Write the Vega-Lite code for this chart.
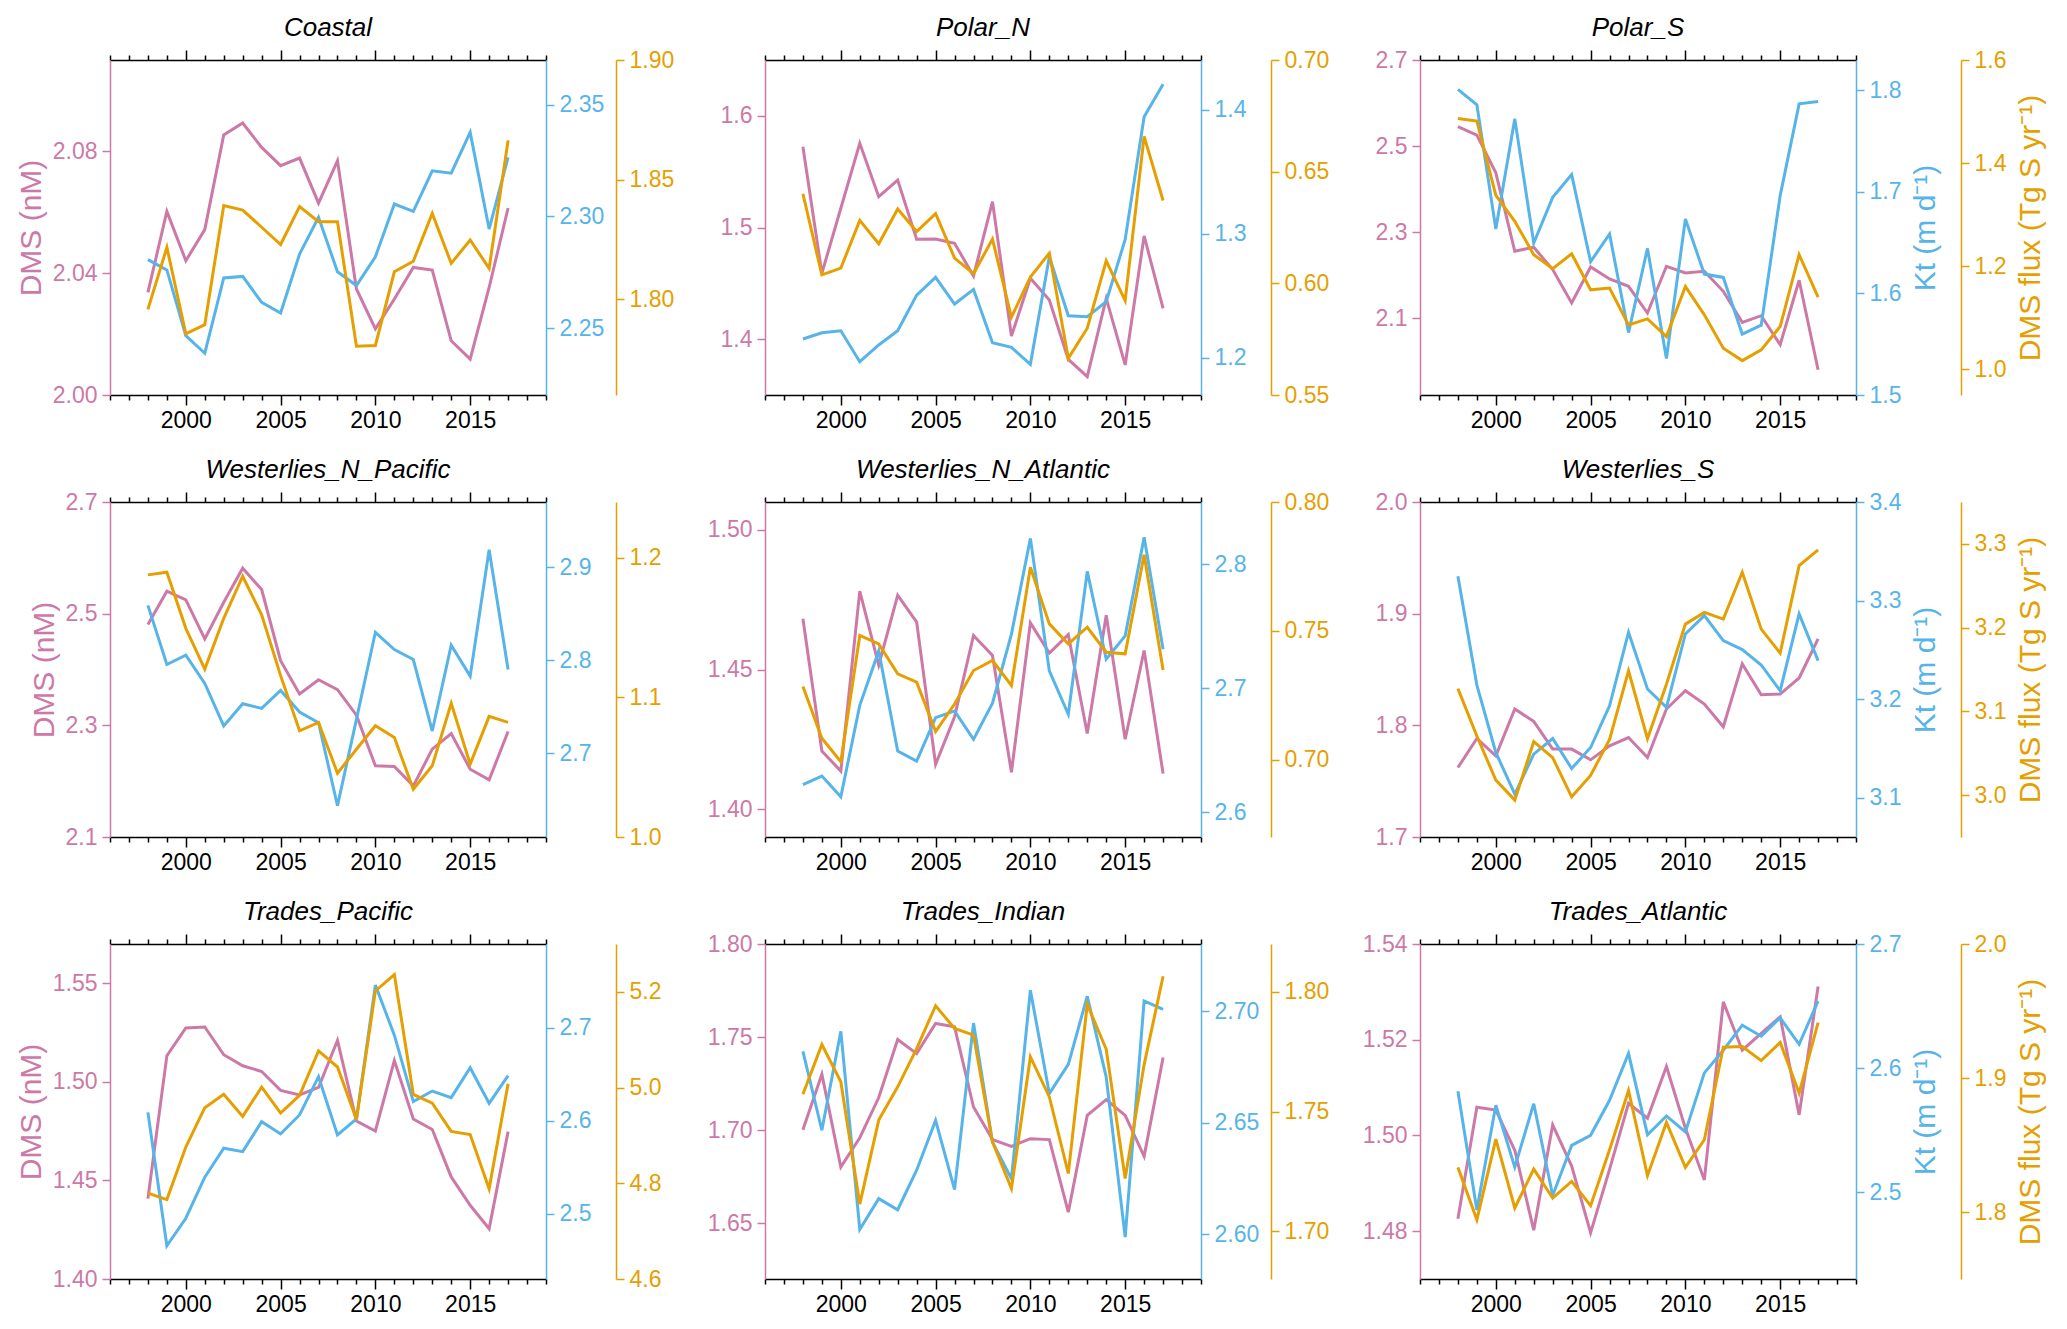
{
"$schema": "https://vega.github.io/schema/vega-lite/v6.json",
"background": "white",
"padding": {"left": 16, "top": 15, "right": 5, "bottom": 5},
"columns": 3,
"spacing": {"row": 107, "column": 219},
"bounds": "flush",
"data": {"values": [
{"region":"Coastal","year":1998,"dms":2.0337,"kt":2.2806,"flux":1.7958},
{"region":"Coastal","year":1999,"dms":2.0603,"kt":2.2760,"flux":1.8217},
{"region":"Coastal","year":2000,"dms":2.0441,"kt":2.2466,"flux":1.7856},
{"region":"Coastal","year":2001,"dms":2.0543,"kt":2.2387,"flux":1.7894},
{"region":"Coastal","year":2002,"dms":2.0854,"kt":2.2724,"flux":1.8392},
{"region":"Coastal","year":2003,"dms":2.0893,"kt":2.2731,"flux":1.8373},
{"region":"Coastal","year":2004,"dms":2.0813,"kt":2.2615,"flux":1.8301},
{"region":"Coastal","year":2005,"dms":2.0753,"kt":2.2567,"flux":1.8229},
{"region":"Coastal","year":2006,"dms":2.0778,"kt":2.2831,"flux":1.8387},
{"region":"Coastal","year":2007,"dms":2.0630,"kt":2.2996,"flux":1.8324},
{"region":"Coastal","year":2008,"dms":2.0769,"kt":2.2752,"flux":1.8324},
{"region":"Coastal","year":2009,"dms":2.0348,"kt":2.2690,"flux":1.7804},
{"region":"Coastal","year":2010,"dms":2.0217,"kt":2.2819,"flux":1.7807},
{"region":"Coastal","year":2011,"dms":2.0315,"kt":2.3055,"flux":1.8115},
{"region":"Coastal","year":2012,"dms":2.0419,"kt":2.3022,"flux":1.8159},
{"region":"Coastal","year":2013,"dms":2.0410,"kt":2.3204,"flux":1.8359},
{"region":"Coastal","year":2014,"dms":2.0178,"kt":2.3193,"flux":1.8150},
{"region":"Coastal","year":2015,"dms":2.0118,"kt":2.3376,"flux":1.8248},
{"region":"Coastal","year":2016,"dms":2.0353,"kt":2.2943,"flux":1.8129},
{"region":"Coastal","year":2017,"dms":2.0614,"kt":2.3264,"flux":1.8664},
{"region":"Polar_N","year":1998,"dms":1.5724,"kt":1.2151,"flux":0.6401},
{"region":"Polar_N","year":1999,"dms":1.4590,"kt":1.2202,"flux":0.6038},
{"region":"Polar_N","year":2000,"dms":1.5172,"kt":1.2218,"flux":0.6068},
{"region":"Polar_N","year":2001,"dms":1.5754,"kt":1.1968,"flux":0.6282},
{"region":"Polar_N","year":2002,"dms":1.5276,"kt":1.2103,"flux":0.6177},
{"region":"Polar_N","year":2003,"dms":1.5425,"kt":1.2218,"flux":0.6333},
{"region":"Polar_N","year":2004,"dms":1.4894,"kt":1.2505,"flux":0.6232},
{"region":"Polar_N","year":2005,"dms":1.4897,"kt":1.2648,"flux":0.6312},
{"region":"Polar_N","year":2006,"dms":1.4858,"kt":1.2433,"flux":0.6113},
{"region":"Polar_N","year":2007,"dms":1.4566,"kt":1.2551,"flux":0.6043},
{"region":"Polar_N","year":2008,"dms":1.5231,"kt":1.2121,"flux":0.6198},
{"region":"Polar_N","year":2009,"dms":1.4028,"kt":1.2084,"flux":0.5848},
{"region":"Polar_N","year":2010,"dms":1.4545,"kt":1.1947,"flux":0.6028},
{"region":"Polar_N","year":2011,"dms":1.4351,"kt":1.2814,"flux":0.6135},
{"region":"Polar_N","year":2012,"dms":1.3819,"kt":1.2339,"flux":0.5664},
{"region":"Polar_N","year":2013,"dms":1.3664,"kt":1.2331,"flux":0.5799},
{"region":"Polar_N","year":2014,"dms":1.4366,"kt":1.2452,"flux":0.6101},
{"region":"Polar_N","year":2015,"dms":1.3769,"kt":1.2954,"flux":0.5923},
{"region":"Polar_N","year":2016,"dms":1.4924,"kt":1.3942,"flux":0.6658},
{"region":"Polar_N","year":2017,"dms":1.4276,"kt":1.4205,"flux":0.6371},
{"region":"Polar_S","year":1998,"dms":2.545,"kt":1.801,"flux":1.4866},
{"region":"Polar_S","year":1999,"dms":2.5256,"kt":1.7859,"flux":1.4814},
{"region":"Polar_S","year":2000,"dms":2.438,"kt":1.6635,"flux":1.3375},
{"region":"Polar_S","year":2001,"dms":2.2558,"kt":1.772,"flux":1.287},
{"region":"Polar_S","year":2002,"dms":2.2651,"kt":1.6497,"flux":1.2222},
{"region":"Polar_S","year":2003,"dms":2.2132,"kt":1.6947,"flux":1.195},
{"region":"Polar_S","year":2004,"dms":2.1357,"kt":1.7171,"flux":1.2241},
{"region":"Polar_S","year":2005,"dms":2.2194,"kt":1.6313,"flux":1.1541},
{"region":"Polar_S","year":2006,"dms":2.1915,"kt":1.6586,"flux":1.1574},
{"region":"Polar_S","year":2007,"dms":2.1744,"kt":1.5615,"flux":1.0861},
{"region":"Polar_S","year":2008,"dms":2.1124,"kt":1.6444,"flux":1.0977},
{"region":"Polar_S","year":2009,"dms":2.2209,"kt":1.5359,"flux":1.0634},
{"region":"Polar_S","year":2010,"dms":2.2054,"kt":1.6734,"flux":1.1606},
{"region":"Polar_S","year":2011,"dms":2.2093,"kt":1.6191,"flux":1.1055},
{"region":"Polar_S","year":2012,"dms":2.1628,"kt":1.6158,"flux":1.0407},
{"region":"Polar_S","year":2013,"dms":2.0907,"kt":1.5599,"flux":1.0167},
{"region":"Polar_S","year":2014,"dms":2.1062,"kt":1.5688,"flux":1.0375},
{"region":"Polar_S","year":2015,"dms":2.0388,"kt":1.6964,"flux":1.0828},
{"region":"Polar_S","year":2016,"dms":2.1884,"kt":1.7868,"flux":1.2222},
{"region":"Polar_S","year":2017,"dms":1.9806,"kt":1.7891,"flux":1.1399},
{"region":"Westerlies_N_Pacific","year":1998,"dms":2.4804,"kt":2.8589,"flux":1.1878},
{"region":"Westerlies_N_Pacific","year":1999,"dms":2.5402,"kt":2.7954,"flux":1.1897},
{"region":"Westerlies_N_Pacific","year":2000,"dms":2.5246,"kt":2.8054,"flux":1.1495},
{"region":"Westerlies_N_Pacific","year":2001,"dms":2.4547,"kt":2.775,"flux":1.1203},
{"region":"Westerlies_N_Pacific","year":2002,"dms":2.5205,"kt":2.7293,"flux":1.1567},
{"region":"Westerlies_N_Pacific","year":2003,"dms":2.5815,"kt":2.7532,"flux":1.1868},
{"region":"Westerlies_N_Pacific","year":2004,"dms":2.5432,"kt":2.7482,"flux":1.1591},
{"region":"Westerlies_N_Pacific","year":2005,"dms":2.4158,"kt":2.7675,"flux":1.1156},
{"region":"Westerlies_N_Pacific","year":2006,"dms":2.356,"kt":2.7443,"flux":1.0761},
{"region":"Westerlies_N_Pacific","year":2007,"dms":2.3817,"kt":2.7329,"flux":1.0821},
{"region":"Westerlies_N_Pacific","year":2008,"dms":2.3638,"kt":2.6436,"flux":1.0457},
{"region":"Westerlies_N_Pacific","year":2009,"dms":2.3183,"kt":2.7364,"flux":1.0629},
{"region":"Westerlies_N_Pacific","year":2010,"dms":2.2274,"kt":2.83,"flux":1.0797},
{"region":"Westerlies_N_Pacific","year":2011,"dms":2.2262,"kt":2.8114,"flux":1.0713},
{"region":"Westerlies_N_Pacific","year":2012,"dms":2.1915,"kt":2.8007,"flux":1.0342},
{"region":"Westerlies_N_Pacific","year":2013,"dms":2.2573,"kt":2.7239,"flux":1.051},
{"region":"Westerlies_N_Pacific","year":2014,"dms":2.2854,"kt":2.8161,"flux":1.0957},
{"region":"Westerlies_N_Pacific","year":2015,"dms":2.2214,"kt":2.7829,"flux":1.0522},
{"region":"Westerlies_N_Pacific","year":2016,"dms":2.2023,"kt":2.9186,"flux":1.0864},
{"region":"Westerlies_N_Pacific","year":2017,"dms":2.289,"kt":2.79,"flux":1.0821},
{"region":"Westerlies_N_Atlantic","year":1998,"dms":1.4682,"kt":2.6223,"flux":0.7284},
{"region":"Westerlies_N_Atlantic","year":1999,"dms":1.4208,"kt":2.6291,"flux":0.7083},
{"region":"Westerlies_N_Atlantic","year":2000,"dms":1.4136,"kt":2.6124,"flux":0.6992},
{"region":"Westerlies_N_Atlantic","year":2001,"dms":1.4781,"kt":2.6861,"flux":0.7482},
{"region":"Westerlies_N_Atlantic","year":2002,"dms":1.4516,"kt":2.73,"flux":0.7449},
{"region":"Westerlies_N_Atlantic","year":2003,"dms":1.4766,"kt":2.6493,"flux":0.7333},
{"region":"Westerlies_N_Atlantic","year":2004,"dms":1.467,"kt":2.6412,"flux":0.7301},
{"region":"Westerlies_N_Atlantic","year":2005,"dms":1.416,"kt":2.6762,"flux":0.7109},
{"region":"Westerlies_N_Atlantic","year":2006,"dms":1.4331,"kt":2.6816,"flux":0.7216},
{"region":"Westerlies_N_Atlantic","year":2007,"dms":1.4622,"kt":2.6587,"flux":0.7346},
{"region":"Westerlies_N_Atlantic","year":2008,"dms":1.455,"kt":2.6878,"flux":0.7385},
{"region":"Westerlies_N_Atlantic","year":2009,"dms":1.4132,"kt":2.7435,"flux":0.7288},
{"region":"Westerlies_N_Atlantic","year":2010,"dms":1.4667,"kt":2.8207,"flux":0.7747},
{"region":"Westerlies_N_Atlantic","year":2011,"dms":1.4559,"kt":2.7139,"flux":0.7527},
{"region":"Westerlies_N_Atlantic","year":2012,"dms":1.4625,"kt":2.6789,"flux":0.7449},
{"region":"Westerlies_N_Atlantic","year":2013,"dms":1.4271,"kt":2.7941,"flux":0.7514},
{"region":"Westerlies_N_Atlantic","year":2014,"dms":1.4694,"kt":2.7233,"flux":0.7417},
{"region":"Westerlies_N_Atlantic","year":2015,"dms":1.425,"kt":2.7421,"flux":0.7411},
{"region":"Westerlies_N_Atlantic","year":2016,"dms":1.4568,"kt":2.8215,"flux":0.7795},
{"region":"Westerlies_N_Atlantic","year":2017,"dms":1.4127,"kt":2.7314,"flux":0.7348},
{"region":"Westerlies_S","year":1998,"dms":1.7622,"kt":3.3247,"flux":3.1272},
{"region":"Westerlies_S","year":1999,"dms":1.7882,"kt":3.2142,"flux":3.0706},
{"region":"Westerlies_S","year":2000,"dms":1.7727,"kt":3.1458,"flux":3.018},
{"region":"Westerlies_S","year":2001,"dms":1.8146,"kt":3.1034,"flux":2.994},
{"region":"Westerlies_S","year":2002,"dms":1.8035,"kt":3.1441,"flux":3.0638},
{"region":"Westerlies_S","year":2003,"dms":1.7787,"kt":3.16,"flux":3.0447},
{"region":"Westerlies_S","year":2004,"dms":1.7787,"kt":3.1295,"flux":2.998},
{"region":"Westerlies_S","year":2005,"dms":1.7691,"kt":3.1508,"flux":3.0235},
{"region":"Westerlies_S","year":2006,"dms":1.7817,"kt":3.1932,"flux":3.0666},
{"region":"Westerlies_S","year":2007,"dms":1.7891,"kt":3.2678,"flux":3.1484},
{"region":"Westerlies_S","year":2008,"dms":1.7712,"kt":3.2102,"flux":3.0674},
{"region":"Westerlies_S","year":2009,"dms":1.8146,"kt":3.1915,"flux":3.1324},
{"region":"Westerlies_S","year":2010,"dms":1.831,"kt":3.2661,"flux":3.2042},
{"region":"Westerlies_S","year":2011,"dms":1.8191,"kt":3.2847,"flux":3.2182},
{"region":"Westerlies_S","year":2012,"dms":1.7987,"kt":3.2593,"flux":3.2102},
{"region":"Westerlies_S","year":2013,"dms":1.855,"kt":3.2502,"flux":3.2661},
{"region":"Westerlies_S","year":2014,"dms":1.8274,"kt":3.2346,"flux":3.1982},
{"region":"Westerlies_S","year":2015,"dms":1.828,"kt":3.2085,"flux":3.1695},
{"region":"Westerlies_S","year":2016,"dms":1.8424,"kt":3.2864,"flux":3.274},
{"region":"Westerlies_S","year":2017,"dms":1.8774,"kt":3.239,"flux":3.2928},
{"region":"Trades_Pacific","year":1998,"dms":1.4408,"kt":2.6091,"flux":4.7793},
{"region":"Trades_Pacific","year":1999,"dms":1.5133,"kt":2.4657,"flux":4.766},
{"region":"Trades_Pacific","year":2000,"dms":1.5274,"kt":2.4953,"flux":4.8756},
{"region":"Trades_Pacific","year":2001,"dms":1.5279,"kt":2.5394,"flux":4.9579},
{"region":"Trades_Pacific","year":2002,"dms":1.5138,"kt":2.5705,"flux":4.9858},
{"region":"Trades_Pacific","year":2003,"dms":1.5082,"kt":2.5669,"flux":4.9397},
{"region":"Trades_Pacific","year":2004,"dms":1.5053,"kt":2.5991,"flux":5.0011},
{"region":"Trades_Pacific","year":2005,"dms":1.4957,"kt":2.5859,"flux":4.9467},
{"region":"Trades_Pacific","year":2006,"dms":1.4934,"kt":2.6063,"flux":4.9837},
{"region":"Trades_Pacific","year":2007,"dms":1.4972,"kt":2.6474,"flux":5.0765},
{"region":"Trades_Pacific","year":2008,"dms":1.5211,"kt":2.5848,"flux":5.043},
{"region":"Trades_Pacific","year":2009,"dms":1.4802,"kt":2.602,"flux":4.9334},
{"region":"Trades_Pacific","year":2010,"dms":1.4751,"kt":2.7458,"flux":5.202},
{"region":"Trades_Pacific","year":2011,"dms":1.5109,"kt":2.6921,"flux":5.2362},
{"region":"Trades_Pacific","year":2012,"dms":1.4812,"kt":2.6206,"flux":4.9858},
{"region":"Trades_Pacific","year":2013,"dms":1.4759,"kt":2.632,"flux":4.9676},
{"region":"Trades_Pacific","year":2014,"dms":1.4518,"kt":2.6249,"flux":4.9083},
{"region":"Trades_Pacific","year":2015,"dms":1.4374,"kt":2.6571,"flux":4.902},
{"region":"Trades_Pacific","year":2016,"dms":1.4255,"kt":2.6188,"flux":4.7884},
{"region":"Trades_Pacific","year":2017,"dms":1.4748,"kt":2.6485,"flux":5.0081},
{"region":"Trades_Indian","year":1998,"dms":1.7002,"kt":2.6819,"flux":1.7572},
{"region":"Trades_Indian","year":1999,"dms":1.73,"kt":2.6466,"flux":1.778},
{"region":"Trades_Indian","year":2000,"dms":1.6801,"kt":2.6909,"flux":1.7624},
{"region":"Trades_Indian","year":2001,"dms":1.6959,"kt":2.6022,"flux":1.7113},
{"region":"Trades_Indian","year":2002,"dms":1.7175,"kt":2.616,"flux":1.7464},
{"region":"Trades_Indian","year":2003,"dms":1.7487,"kt":2.611,"flux":1.7603},
{"region":"Trades_Indian","year":2004,"dms":1.7411,"kt":2.6287,"flux":1.7763},
{"region":"Trades_Indian","year":2005,"dms":1.7573,"kt":2.651,"flux":1.7942},
{"region":"Trades_Indian","year":2006,"dms":1.7555,"kt":2.62,"flux":1.7847},
{"region":"Trades_Indian","year":2007,"dms":1.7124,"kt":2.6946,"flux":1.7819},
{"region":"Trades_Indian","year":2008,"dms":1.6949,"kt":2.6413,"flux":1.7373},
{"region":"Trades_Indian","year":2009,"dms":1.6913,"kt":2.6249,"flux":1.7178},
{"region":"Trades_Indian","year":2010,"dms":1.6954,"kt":2.7093,"flux":1.7728},
{"region":"Trades_Indian","year":2011,"dms":1.6949,"kt":2.663,"flux":1.7561},
{"region":"Trades_Indian","year":2012,"dms":1.6559,"kt":2.6761,"flux":1.7241},
{"region":"Trades_Indian","year":2013,"dms":1.7079,"kt":2.7066,"flux":1.7948},
{"region":"Trades_Indian","year":2014,"dms":1.7164,"kt":2.6704,"flux":1.776},
{"region":"Trades_Indian","year":2015,"dms":1.7079,"kt":2.5988,"flux":1.722},
{"region":"Trades_Indian","year":2016,"dms":1.6859,"kt":2.7045,"flux":1.7696},
{"region":"Trades_Indian","year":2017,"dms":1.739,"kt":2.7007,"flux":1.8065},
{"region":"Trades_Atlantic","year":1998,"dms":1.4826,"kt":2.5813,"flux":1.8333},
{"region":"Trades_Atlantic","year":1999,"dms":1.5059,"kt":2.4857,"flux":1.7943},
{"region":"Trades_Atlantic","year":2000,"dms":1.5053,"kt":2.57,"flux":1.8544},
{"region":"Trades_Atlantic","year":2001,"dms":1.4969,"kt":2.5202,"flux":1.803},
{"region":"Trades_Atlantic","year":2002,"dms":1.4802,"kt":2.5713,"flux":1.832},
{"region":"Trades_Atlantic","year":2003,"dms":1.5022,"kt":2.4973,"flux":1.8104},
{"region":"Trades_Atlantic","year":2004,"dms":1.4936,"kt":2.5377,"flux":1.8229},
{"region":"Trades_Atlantic","year":2005,"dms":1.4797,"kt":2.5458,"flux":1.8047},
{"region":"Trades_Atlantic","year":2006,"dms":1.4929,"kt":2.574,"flux":1.8465},
{"region":"Trades_Atlantic","year":2007,"dms":1.5067,"kt":2.6117,"flux":1.8907},
{"region":"Trades_Atlantic","year":2008,"dms":1.5036,"kt":2.5463,"flux":1.8271},
{"region":"Trades_Atlantic","year":2009,"dms":1.5144,"kt":2.5614,"flux":1.8668},
{"region":"Trades_Atlantic","year":2010,"dms":1.5015,"kt":2.5485,"flux":1.8333},
{"region":"Trades_Atlantic","year":2011,"dms":1.4907,"kt":2.5961,"flux":1.8539},
{"region":"Trades_Atlantic","year":2012,"dms":1.5279,"kt":2.6144,"flux":1.923},
{"region":"Trades_Atlantic","year":2013,"dms":1.5178,"kt":2.6346,"flux":1.9235},
{"region":"Trades_Atlantic","year":2014,"dms":1.5213,"kt":2.6257,"flux":1.913},
{"region":"Trades_Atlantic","year":2015,"dms":1.5248,"kt":2.6405,"flux":1.9265},
{"region":"Trades_Atlantic","year":2016,"dms":1.5043,"kt":2.6192,"flux":1.8887},
{"region":"Trades_Atlantic","year":2017,"dms":1.5311,"kt":2.654,"flux":1.9414}
]},
"concat": [
{"title": "Coastal", "width": 436, "height": 335,
 "transform": [{"filter": "datum.region === 'Coastal'"}],
 "layer": [
  {"mark": {"type": "line", "color": "#CC79A7", "strokeWidth": 3},
   "encoding": {
    "x": {"field": "year", "type": "quantitative", "scale": {"domain": [1996, 2019], "nice": false, "zero": false},
     "axis": {"orient": "bottom", "values": [1996,1997,1998,1999,2000,2001,2002,2003,2004,2005,2006,2007,2008,2009,2010,2011,2012,2013,2014,2015,2016,2017,2018,2019], "format": "d", "labelExpr": "datum.value % 5 === 0 ? datum.label : ''", "tickSize": {"condition": {"test": "datum.value % 5 === 0", "value": 10}, "value": 5}, "title": null, "labelOverlap": false, "labelFlush": false, "labelBound": false, "domainColor": "black", "tickColor": "black", "labelColor": "black", "labelPadding": 4}},
    "y": {"field": "dms", "type": "quantitative", "scale": {"domain": [2.0, 2.11], "nice": false, "zero": false},
     "axis": {"orient": "left", "values": [2.0, 2.04, 2.08], "format": ".2f", "title": "DMS (nM)", "titlePadding": 6, "domainColor": "#CC79A7", "tickColor": "#CC79A7", "labelColor": "#CC79A7", "titleColor": "#CC79A7"}}}},
  {"mark": {"type": "line", "color": "#56B4E9", "strokeWidth": 3},
   "encoding": {
    "x": {"field": "year", "type": "quantitative", "scale": {"domain": [1996, 2019], "nice": false, "zero": false},
     "axis": {"orient": "top", "values": [1996,1997,1998,1999,2000,2001,2002,2003,2004,2005,2006,2007,2008,2009,2010,2011,2012,2013,2014,2015,2016,2017,2018,2019], "labels": false, "tickSize": {"condition": {"test": "datum.value % 5 === 0", "value": 10}, "value": 5}, "title": null, "domainColor": "black", "tickColor": "black"}},
    "y": {"field": "kt", "type": "quantitative", "scale": {"domain": [2.22, 2.37], "nice": false, "zero": false},
     "axis": {"orient": "right", "values": [2.25, 2.30, 2.35], "format": ".2f", "title": null, "domainColor": "#56B4E9", "tickColor": "#56B4E9", "labelColor": "#56B4E9"}}}},
  {"mark": {"type": "line", "color": "#E69F00", "strokeWidth": 3},
   "encoding": {
    "x": {"field": "year", "type": "quantitative", "scale": {"domain": [1996, 2019], "nice": false, "zero": false}, "axis": null},
    "y": {"field": "flux", "type": "quantitative", "scale": {"domain": [1.76, 1.90], "nice": false, "zero": false},
     "axis": {"orient": "right", "offset": 70, "values": [1.80, 1.85, 1.90], "format": ".2f", "title": null, "domainColor": "#E69F00", "tickColor": "#E69F00", "labelColor": "#E69F00"}}}}
 ],
 "resolve": {"scale": {"y": "independent"}, "axis": {"x": "independent", "y": "independent"}}},
{"title": "Polar_N", "width": 436, "height": 335,
 "transform": [{"filter": "datum.region === 'Polar_N'"}],
 "layer": [
  {"mark": {"type": "line", "color": "#CC79A7", "strokeWidth": 3},
   "encoding": {
    "x": {"field": "year", "type": "quantitative", "scale": {"domain": [1996, 2019], "nice": false, "zero": false},
     "axis": {"orient": "bottom", "values": [1996,1997,1998,1999,2000,2001,2002,2003,2004,2005,2006,2007,2008,2009,2010,2011,2012,2013,2014,2015,2016,2017,2018,2019], "format": "d", "labelExpr": "datum.value % 5 === 0 ? datum.label : ''", "tickSize": {"condition": {"test": "datum.value % 5 === 0", "value": 10}, "value": 5}, "title": null, "labelOverlap": false, "labelFlush": false, "labelBound": false, "domainColor": "black", "tickColor": "black", "labelColor": "black", "labelPadding": 4}},
    "y": {"field": "dms", "type": "quantitative", "scale": {"domain": [1.35, 1.65], "nice": false, "zero": false},
     "axis": {"orient": "left", "values": [1.4, 1.5, 1.6], "format": ".1f", "title": null, "domainColor": "#CC79A7", "tickColor": "#CC79A7", "labelColor": "#CC79A7"}}}},
  {"mark": {"type": "line", "color": "#56B4E9", "strokeWidth": 3},
   "encoding": {
    "x": {"field": "year", "type": "quantitative", "scale": {"domain": [1996, 2019], "nice": false, "zero": false},
     "axis": {"orient": "top", "values": [1996,1997,1998,1999,2000,2001,2002,2003,2004,2005,2006,2007,2008,2009,2010,2011,2012,2013,2014,2015,2016,2017,2018,2019], "labels": false, "tickSize": {"condition": {"test": "datum.value % 5 === 0", "value": 10}, "value": 5}, "title": null, "domainColor": "black", "tickColor": "black"}},
    "y": {"field": "kt", "type": "quantitative", "scale": {"domain": [1.17, 1.44], "nice": false, "zero": false},
     "axis": {"orient": "right", "values": [1.2, 1.3, 1.4], "format": ".1f", "title": null, "domainColor": "#56B4E9", "tickColor": "#56B4E9", "labelColor": "#56B4E9"}}}},
  {"mark": {"type": "line", "color": "#E69F00", "strokeWidth": 3},
   "encoding": {
    "x": {"field": "year", "type": "quantitative", "scale": {"domain": [1996, 2019], "nice": false, "zero": false}, "axis": null},
    "y": {"field": "flux", "type": "quantitative", "scale": {"domain": [0.55, 0.70], "nice": false, "zero": false},
     "axis": {"orient": "right", "offset": 70, "values": [0.55, 0.60, 0.65, 0.70], "format": ".2f", "title": null, "domainColor": "#E69F00", "tickColor": "#E69F00", "labelColor": "#E69F00"}}}}
 ],
 "resolve": {"scale": {"y": "independent"}, "axis": {"x": "independent", "y": "independent"}}},
{"title": "Polar_S", "width": 436, "height": 335,
 "transform": [{"filter": "datum.region === 'Polar_S'"}],
 "layer": [
  {"mark": {"type": "line", "color": "#CC79A7", "strokeWidth": 3},
   "encoding": {
    "x": {"field": "year", "type": "quantitative", "scale": {"domain": [1996, 2019], "nice": false, "zero": false},
     "axis": {"orient": "bottom", "values": [1996,1997,1998,1999,2000,2001,2002,2003,2004,2005,2006,2007,2008,2009,2010,2011,2012,2013,2014,2015,2016,2017,2018,2019], "format": "d", "labelExpr": "datum.value % 5 === 0 ? datum.label : ''", "tickSize": {"condition": {"test": "datum.value % 5 === 0", "value": 10}, "value": 5}, "title": null, "labelOverlap": false, "labelFlush": false, "labelBound": false, "domainColor": "black", "tickColor": "black", "labelColor": "black", "labelPadding": 4}},
    "y": {"field": "dms", "type": "quantitative", "scale": {"domain": [1.922, 2.7], "nice": false, "zero": false},
     "axis": {"orient": "left", "values": [2.1, 2.3, 2.5, 2.7], "format": ".1f", "title": null, "domainColor": "#CC79A7", "tickColor": "#CC79A7", "labelColor": "#CC79A7"}}}},
  {"mark": {"type": "line", "color": "#56B4E9", "strokeWidth": 3},
   "encoding": {
    "x": {"field": "year", "type": "quantitative", "scale": {"domain": [1996, 2019], "nice": false, "zero": false},
     "axis": {"orient": "top", "values": [1996,1997,1998,1999,2000,2001,2002,2003,2004,2005,2006,2007,2008,2009,2010,2011,2012,2013,2014,2015,2016,2017,2018,2019], "labels": false, "tickSize": {"condition": {"test": "datum.value % 5 === 0", "value": 10}, "value": 5}, "title": null, "domainColor": "black", "tickColor": "black"}},
    "y": {"field": "kt", "type": "quantitative", "scale": {"domain": [1.5, 1.83], "nice": false, "zero": false},
     "axis": {"orient": "right", "values": [1.5, 1.6, 1.7, 1.8], "format": ".1f", "title": "Kt (m d⁻¹)", "titleAngle": 270, "titleBaseline": "top", "titlePadding": 10, "domainColor": "#56B4E9", "tickColor": "#56B4E9", "labelColor": "#56B4E9", "titleColor": "#56B4E9"}}}},
  {"mark": {"type": "line", "color": "#E69F00", "strokeWidth": 3},
   "encoding": {
    "x": {"field": "year", "type": "quantitative", "scale": {"domain": [1996, 2019], "nice": false, "zero": false}, "axis": null},
    "y": {"field": "flux", "type": "quantitative", "scale": {"domain": [0.95, 1.6], "nice": false, "zero": false},
     "axis": {"orient": "right", "offset": 105, "values": [1.0, 1.2, 1.4, 1.6], "format": ".1f", "title": "DMS flux (Tg S yr⁻¹)", "titleAngle": 270, "titleBaseline": "top", "titlePadding": 10, "domainColor": "#E69F00", "tickColor": "#E69F00", "labelColor": "#E69F00", "titleColor": "#E69F00"}}}}
 ],
 "resolve": {"scale": {"y": "independent"}, "axis": {"x": "independent", "y": "independent"}}},
{"title": "Westerlies_N_Pacific", "width": 436, "height": 335,
 "transform": [{"filter": "datum.region === 'Westerlies_N_Pacific'"}],
 "layer": [
  {"mark": {"type": "line", "color": "#CC79A7", "strokeWidth": 3},
   "encoding": {
    "x": {"field": "year", "type": "quantitative", "scale": {"domain": [1996, 2019], "nice": false, "zero": false},
     "axis": {"orient": "bottom", "values": [1996,1997,1998,1999,2000,2001,2002,2003,2004,2005,2006,2007,2008,2009,2010,2011,2012,2013,2014,2015,2016,2017,2018,2019], "format": "d", "labelExpr": "datum.value % 5 === 0 ? datum.label : ''", "tickSize": {"condition": {"test": "datum.value % 5 === 0", "value": 10}, "value": 5}, "title": null, "labelOverlap": false, "labelFlush": false, "labelBound": false, "domainColor": "black", "tickColor": "black", "labelColor": "black", "labelPadding": 4}},
    "y": {"field": "dms", "type": "quantitative", "scale": {"domain": [2.1, 2.7], "nice": false, "zero": false},
     "axis": {"orient": "left", "values": [2.1, 2.3, 2.5, 2.7], "format": ".1f", "title": "DMS (nM)", "titlePadding": 6, "domainColor": "#CC79A7", "tickColor": "#CC79A7", "labelColor": "#CC79A7", "titleColor": "#CC79A7"}}}},
  {"mark": {"type": "line", "color": "#56B4E9", "strokeWidth": 3},
   "encoding": {
    "x": {"field": "year", "type": "quantitative", "scale": {"domain": [1996, 2019], "nice": false, "zero": false},
     "axis": {"orient": "top", "values": [1996,1997,1998,1999,2000,2001,2002,2003,2004,2005,2006,2007,2008,2009,2010,2011,2012,2013,2014,2015,2016,2017,2018,2019], "labels": false, "tickSize": {"condition": {"test": "datum.value % 5 === 0", "value": 10}, "value": 5}, "title": null, "domainColor": "black", "tickColor": "black"}},
    "y": {"field": "kt", "type": "quantitative", "scale": {"domain": [2.61, 2.97], "nice": false, "zero": false},
     "axis": {"orient": "right", "values": [2.7, 2.8, 2.9], "format": ".1f", "title": null, "domainColor": "#56B4E9", "tickColor": "#56B4E9", "labelColor": "#56B4E9"}}}},
  {"mark": {"type": "line", "color": "#E69F00", "strokeWidth": 3},
   "encoding": {
    "x": {"field": "year", "type": "quantitative", "scale": {"domain": [1996, 2019], "nice": false, "zero": false}, "axis": null},
    "y": {"field": "flux", "type": "quantitative", "scale": {"domain": [1.0, 1.24], "nice": false, "zero": false},
     "axis": {"orient": "right", "offset": 70, "values": [1.0, 1.1, 1.2], "format": ".1f", "title": null, "domainColor": "#E69F00", "tickColor": "#E69F00", "labelColor": "#E69F00"}}}}
 ],
 "resolve": {"scale": {"y": "independent"}, "axis": {"x": "independent", "y": "independent"}}},
{"title": "Westerlies_N_Atlantic", "width": 436, "height": 335,
 "transform": [{"filter": "datum.region === 'Westerlies_N_Atlantic'"}],
 "layer": [
  {"mark": {"type": "line", "color": "#CC79A7", "strokeWidth": 3},
   "encoding": {
    "x": {"field": "year", "type": "quantitative", "scale": {"domain": [1996, 2019], "nice": false, "zero": false},
     "axis": {"orient": "bottom", "values": [1996,1997,1998,1999,2000,2001,2002,2003,2004,2005,2006,2007,2008,2009,2010,2011,2012,2013,2014,2015,2016,2017,2018,2019], "format": "d", "labelExpr": "datum.value % 5 === 0 ? datum.label : ''", "tickSize": {"condition": {"test": "datum.value % 5 === 0", "value": 10}, "value": 5}, "title": null, "labelOverlap": false, "labelFlush": false, "labelBound": false, "domainColor": "black", "tickColor": "black", "labelColor": "black", "labelPadding": 4}},
    "y": {"field": "dms", "type": "quantitative", "scale": {"domain": [1.39, 1.51], "nice": false, "zero": false},
     "axis": {"orient": "left", "values": [1.40, 1.45, 1.50], "format": ".2f", "title": null, "domainColor": "#CC79A7", "tickColor": "#CC79A7", "labelColor": "#CC79A7"}}}},
  {"mark": {"type": "line", "color": "#56B4E9", "strokeWidth": 3},
   "encoding": {
    "x": {"field": "year", "type": "quantitative", "scale": {"domain": [1996, 2019], "nice": false, "zero": false},
     "axis": {"orient": "top", "values": [1996,1997,1998,1999,2000,2001,2002,2003,2004,2005,2006,2007,2008,2009,2010,2011,2012,2013,2014,2015,2016,2017,2018,2019], "labels": false, "tickSize": {"condition": {"test": "datum.value % 5 === 0", "value": 10}, "value": 5}, "title": null, "domainColor": "black", "tickColor": "black"}},
    "y": {"field": "kt", "type": "quantitative", "scale": {"domain": [2.58, 2.85], "nice": false, "zero": false},
     "axis": {"orient": "right", "values": [2.6, 2.7, 2.8], "format": ".1f", "title": null, "domainColor": "#56B4E9", "tickColor": "#56B4E9", "labelColor": "#56B4E9"}}}},
  {"mark": {"type": "line", "color": "#E69F00", "strokeWidth": 3},
   "encoding": {
    "x": {"field": "year", "type": "quantitative", "scale": {"domain": [1996, 2019], "nice": false, "zero": false}, "axis": null},
    "y": {"field": "flux", "type": "quantitative", "scale": {"domain": [0.67, 0.80], "nice": false, "zero": false},
     "axis": {"orient": "right", "offset": 70, "values": [0.70, 0.75, 0.80], "format": ".2f", "title": null, "domainColor": "#E69F00", "tickColor": "#E69F00", "labelColor": "#E69F00"}}}}
 ],
 "resolve": {"scale": {"y": "independent"}, "axis": {"x": "independent", "y": "independent"}}},
{"title": "Westerlies_S", "width": 436, "height": 335,
 "transform": [{"filter": "datum.region === 'Westerlies_S'"}],
 "layer": [
  {"mark": {"type": "line", "color": "#CC79A7", "strokeWidth": 3},
   "encoding": {
    "x": {"field": "year", "type": "quantitative", "scale": {"domain": [1996, 2019], "nice": false, "zero": false},
     "axis": {"orient": "bottom", "values": [1996,1997,1998,1999,2000,2001,2002,2003,2004,2005,2006,2007,2008,2009,2010,2011,2012,2013,2014,2015,2016,2017,2018,2019], "format": "d", "labelExpr": "datum.value % 5 === 0 ? datum.label : ''", "tickSize": {"condition": {"test": "datum.value % 5 === 0", "value": 10}, "value": 5}, "title": null, "labelOverlap": false, "labelFlush": false, "labelBound": false, "domainColor": "black", "tickColor": "black", "labelColor": "black", "labelPadding": 4}},
    "y": {"field": "dms", "type": "quantitative", "scale": {"domain": [1.7, 2.0], "nice": false, "zero": false},
     "axis": {"orient": "left", "values": [1.7, 1.8, 1.9, 2.0], "format": ".1f", "title": null, "domainColor": "#CC79A7", "tickColor": "#CC79A7", "labelColor": "#CC79A7"}}}},
  {"mark": {"type": "line", "color": "#56B4E9", "strokeWidth": 3},
   "encoding": {
    "x": {"field": "year", "type": "quantitative", "scale": {"domain": [1996, 2019], "nice": false, "zero": false},
     "axis": {"orient": "top", "values": [1996,1997,1998,1999,2000,2001,2002,2003,2004,2005,2006,2007,2008,2009,2010,2011,2012,2013,2014,2015,2016,2017,2018,2019], "labels": false, "tickSize": {"condition": {"test": "datum.value % 5 === 0", "value": 10}, "value": 5}, "title": null, "domainColor": "black", "tickColor": "black"}},
    "y": {"field": "kt", "type": "quantitative", "scale": {"domain": [3.06, 3.4], "nice": false, "zero": false},
     "axis": {"orient": "right", "values": [3.1, 3.2, 3.3, 3.4], "format": ".1f", "title": "Kt (m d⁻¹)", "titleAngle": 270, "titleBaseline": "top", "titlePadding": 10, "domainColor": "#56B4E9", "tickColor": "#56B4E9", "labelColor": "#56B4E9", "titleColor": "#56B4E9"}}}},
  {"mark": {"type": "line", "color": "#E69F00", "strokeWidth": 3},
   "encoding": {
    "x": {"field": "year", "type": "quantitative", "scale": {"domain": [1996, 2019], "nice": false, "zero": false}, "axis": null},
    "y": {"field": "flux", "type": "quantitative", "scale": {"domain": [2.95, 3.35], "nice": false, "zero": false},
     "axis": {"orient": "right", "offset": 105, "values": [3.0, 3.1, 3.2, 3.3], "format": ".1f", "title": "DMS flux (Tg S yr⁻¹)", "titleAngle": 270, "titleBaseline": "top", "titlePadding": 10, "domainColor": "#E69F00", "tickColor": "#E69F00", "labelColor": "#E69F00", "titleColor": "#E69F00"}}}}
 ],
 "resolve": {"scale": {"y": "independent"}, "axis": {"x": "independent", "y": "independent"}}},
{"title": "Trades_Pacific", "width": 436, "height": 335,
 "transform": [{"filter": "datum.region === 'Trades_Pacific'"}],
 "layer": [
  {"mark": {"type": "line", "color": "#CC79A7", "strokeWidth": 3},
   "encoding": {
    "x": {"field": "year", "type": "quantitative", "scale": {"domain": [1996, 2019], "nice": false, "zero": false},
     "axis": {"orient": "bottom", "values": [1996,1997,1998,1999,2000,2001,2002,2003,2004,2005,2006,2007,2008,2009,2010,2011,2012,2013,2014,2015,2016,2017,2018,2019], "format": "d", "labelExpr": "datum.value % 5 === 0 ? datum.label : ''", "tickSize": {"condition": {"test": "datum.value % 5 === 0", "value": 10}, "value": 5}, "title": null, "labelOverlap": false, "labelFlush": false, "labelBound": false, "domainColor": "black", "tickColor": "black", "labelColor": "black", "labelPadding": 4}},
    "y": {"field": "dms", "type": "quantitative", "scale": {"domain": [1.40, 1.57], "nice": false, "zero": false},
     "axis": {"orient": "left", "values": [1.40, 1.45, 1.50, 1.55], "format": ".2f", "title": "DMS (nM)", "titlePadding": 6, "domainColor": "#CC79A7", "tickColor": "#CC79A7", "labelColor": "#CC79A7", "titleColor": "#CC79A7"}}}},
  {"mark": {"type": "line", "color": "#56B4E9", "strokeWidth": 3},
   "encoding": {
    "x": {"field": "year", "type": "quantitative", "scale": {"domain": [1996, 2019], "nice": false, "zero": false},
     "axis": {"orient": "top", "values": [1996,1997,1998,1999,2000,2001,2002,2003,2004,2005,2006,2007,2008,2009,2010,2011,2012,2013,2014,2015,2016,2017,2018,2019], "labels": false, "tickSize": {"condition": {"test": "datum.value % 5 === 0", "value": 10}, "value": 5}, "title": null, "domainColor": "black", "tickColor": "black"}},
    "y": {"field": "kt", "type": "quantitative", "scale": {"domain": [2.43, 2.79], "nice": false, "zero": false},
     "axis": {"orient": "right", "values": [2.5, 2.6, 2.7], "format": ".1f", "title": null, "domainColor": "#56B4E9", "tickColor": "#56B4E9", "labelColor": "#56B4E9"}}}},
  {"mark": {"type": "line", "color": "#E69F00", "strokeWidth": 3},
   "encoding": {
    "x": {"field": "year", "type": "quantitative", "scale": {"domain": [1996, 2019], "nice": false, "zero": false}, "axis": null},
    "y": {"field": "flux", "type": "quantitative", "scale": {"domain": [4.6, 5.3], "nice": false, "zero": false},
     "axis": {"orient": "right", "offset": 70, "values": [4.6, 4.8, 5.0, 5.2], "format": ".1f", "title": null, "domainColor": "#E69F00", "tickColor": "#E69F00", "labelColor": "#E69F00"}}}}
 ],
 "resolve": {"scale": {"y": "independent"}, "axis": {"x": "independent", "y": "independent"}}},
{"title": "Trades_Indian", "width": 436, "height": 335,
 "transform": [{"filter": "datum.region === 'Trades_Indian'"}],
 "layer": [
  {"mark": {"type": "line", "color": "#CC79A7", "strokeWidth": 3},
   "encoding": {
    "x": {"field": "year", "type": "quantitative", "scale": {"domain": [1996, 2019], "nice": false, "zero": false},
     "axis": {"orient": "bottom", "values": [1996,1997,1998,1999,2000,2001,2002,2003,2004,2005,2006,2007,2008,2009,2010,2011,2012,2013,2014,2015,2016,2017,2018,2019], "format": "d", "labelExpr": "datum.value % 5 === 0 ? datum.label : ''", "tickSize": {"condition": {"test": "datum.value % 5 === 0", "value": 10}, "value": 5}, "title": null, "labelOverlap": false, "labelFlush": false, "labelBound": false, "domainColor": "black", "tickColor": "black", "labelColor": "black", "labelPadding": 4}},
    "y": {"field": "dms", "type": "quantitative", "scale": {"domain": [1.62, 1.80], "nice": false, "zero": false},
     "axis": {"orient": "left", "values": [1.65, 1.70, 1.75, 1.80], "format": ".2f", "title": null, "domainColor": "#CC79A7", "tickColor": "#CC79A7", "labelColor": "#CC79A7"}}}},
  {"mark": {"type": "line", "color": "#56B4E9", "strokeWidth": 3},
   "encoding": {
    "x": {"field": "year", "type": "quantitative", "scale": {"domain": [1996, 2019], "nice": false, "zero": false},
     "axis": {"orient": "top", "values": [1996,1997,1998,1999,2000,2001,2002,2003,2004,2005,2006,2007,2008,2009,2010,2011,2012,2013,2014,2015,2016,2017,2018,2019], "labels": false, "tickSize": {"condition": {"test": "datum.value % 5 === 0", "value": 10}, "value": 5}, "title": null, "domainColor": "black", "tickColor": "black"}},
    "y": {"field": "kt", "type": "quantitative", "scale": {"domain": [2.58, 2.73], "nice": false, "zero": false},
     "axis": {"orient": "right", "values": [2.60, 2.65, 2.70], "format": ".2f", "title": null, "domainColor": "#56B4E9", "tickColor": "#56B4E9", "labelColor": "#56B4E9"}}}},
  {"mark": {"type": "line", "color": "#E69F00", "strokeWidth": 3},
   "encoding": {
    "x": {"field": "year", "type": "quantitative", "scale": {"domain": [1996, 2019], "nice": false, "zero": false}, "axis": null},
    "y": {"field": "flux", "type": "quantitative", "scale": {"domain": [1.68, 1.82], "nice": false, "zero": false},
     "axis": {"orient": "right", "offset": 70, "values": [1.70, 1.75, 1.80], "format": ".2f", "title": null, "domainColor": "#E69F00", "tickColor": "#E69F00", "labelColor": "#E69F00"}}}}
 ],
 "resolve": {"scale": {"y": "independent"}, "axis": {"x": "independent", "y": "independent"}}},
{"title": "Trades_Atlantic", "width": 436, "height": 335,
 "transform": [{"filter": "datum.region === 'Trades_Atlantic'"}],
 "layer": [
  {"mark": {"type": "line", "color": "#CC79A7", "strokeWidth": 3},
   "encoding": {
    "x": {"field": "year", "type": "quantitative", "scale": {"domain": [1996, 2019], "nice": false, "zero": false},
     "axis": {"orient": "bottom", "values": [1996,1997,1998,1999,2000,2001,2002,2003,2004,2005,2006,2007,2008,2009,2010,2011,2012,2013,2014,2015,2016,2017,2018,2019], "format": "d", "labelExpr": "datum.value % 5 === 0 ? datum.label : ''", "tickSize": {"condition": {"test": "datum.value % 5 === 0", "value": 10}, "value": 5}, "title": null, "labelOverlap": false, "labelFlush": false, "labelBound": false, "domainColor": "black", "tickColor": "black", "labelColor": "black", "labelPadding": 4}},
    "y": {"field": "dms", "type": "quantitative", "scale": {"domain": [1.47, 1.54], "nice": false, "zero": false},
     "axis": {"orient": "left", "values": [1.48, 1.50, 1.52, 1.54], "format": ".2f", "title": null, "domainColor": "#CC79A7", "tickColor": "#CC79A7", "labelColor": "#CC79A7"}}}},
  {"mark": {"type": "line", "color": "#56B4E9", "strokeWidth": 3},
   "encoding": {
    "x": {"field": "year", "type": "quantitative", "scale": {"domain": [1996, 2019], "nice": false, "zero": false},
     "axis": {"orient": "top", "values": [1996,1997,1998,1999,2000,2001,2002,2003,2004,2005,2006,2007,2008,2009,2010,2011,2012,2013,2014,2015,2016,2017,2018,2019], "labels": false, "tickSize": {"condition": {"test": "datum.value % 5 === 0", "value": 10}, "value": 5}, "title": null, "domainColor": "black", "tickColor": "black"}},
    "y": {"field": "kt", "type": "quantitative", "scale": {"domain": [2.43, 2.7], "nice": false, "zero": false},
     "axis": {"orient": "right", "values": [2.5, 2.6, 2.7], "format": ".1f", "title": "Kt (m d⁻¹)", "titleAngle": 270, "titleBaseline": "top", "titlePadding": 10, "domainColor": "#56B4E9", "tickColor": "#56B4E9", "labelColor": "#56B4E9", "titleColor": "#56B4E9"}}}},
  {"mark": {"type": "line", "color": "#E69F00", "strokeWidth": 3},
   "encoding": {
    "x": {"field": "year", "type": "quantitative", "scale": {"domain": [1996, 2019], "nice": false, "zero": false}, "axis": null},
    "y": {"field": "flux", "type": "quantitative", "scale": {"domain": [1.75, 2.0], "nice": false, "zero": false},
     "axis": {"orient": "right", "offset": 105, "values": [1.8, 1.9, 2.0], "format": ".1f", "title": "DMS flux (Tg S yr⁻¹)", "titleAngle": 270, "titleBaseline": "top", "titlePadding": 10, "domainColor": "#E69F00", "tickColor": "#E69F00", "labelColor": "#E69F00", "titleColor": "#E69F00"}}}}
 ],
 "resolve": {"scale": {"y": "independent"}, "axis": {"x": "independent", "y": "independent"}}}
],
"config": {
 "view": {"stroke": null},
 "font": "Liberation Sans",
 "title": {"font": "Liberation Sans", "fontSize": 26, "fontStyle": "italic", "fontWeight": "normal", "color": "black", "offset": 8},
 "axis": {"grid": false, "labelFont": "Liberation Sans", "labelFontSize": 23, "titleFont": "Liberation Sans", "titleFontSize": 30, "titleFontWeight": "normal", "domainWidth": 1.5, "tickWidth": 1.5, "tickSize": 8, "labelPadding": 5}
}
}
